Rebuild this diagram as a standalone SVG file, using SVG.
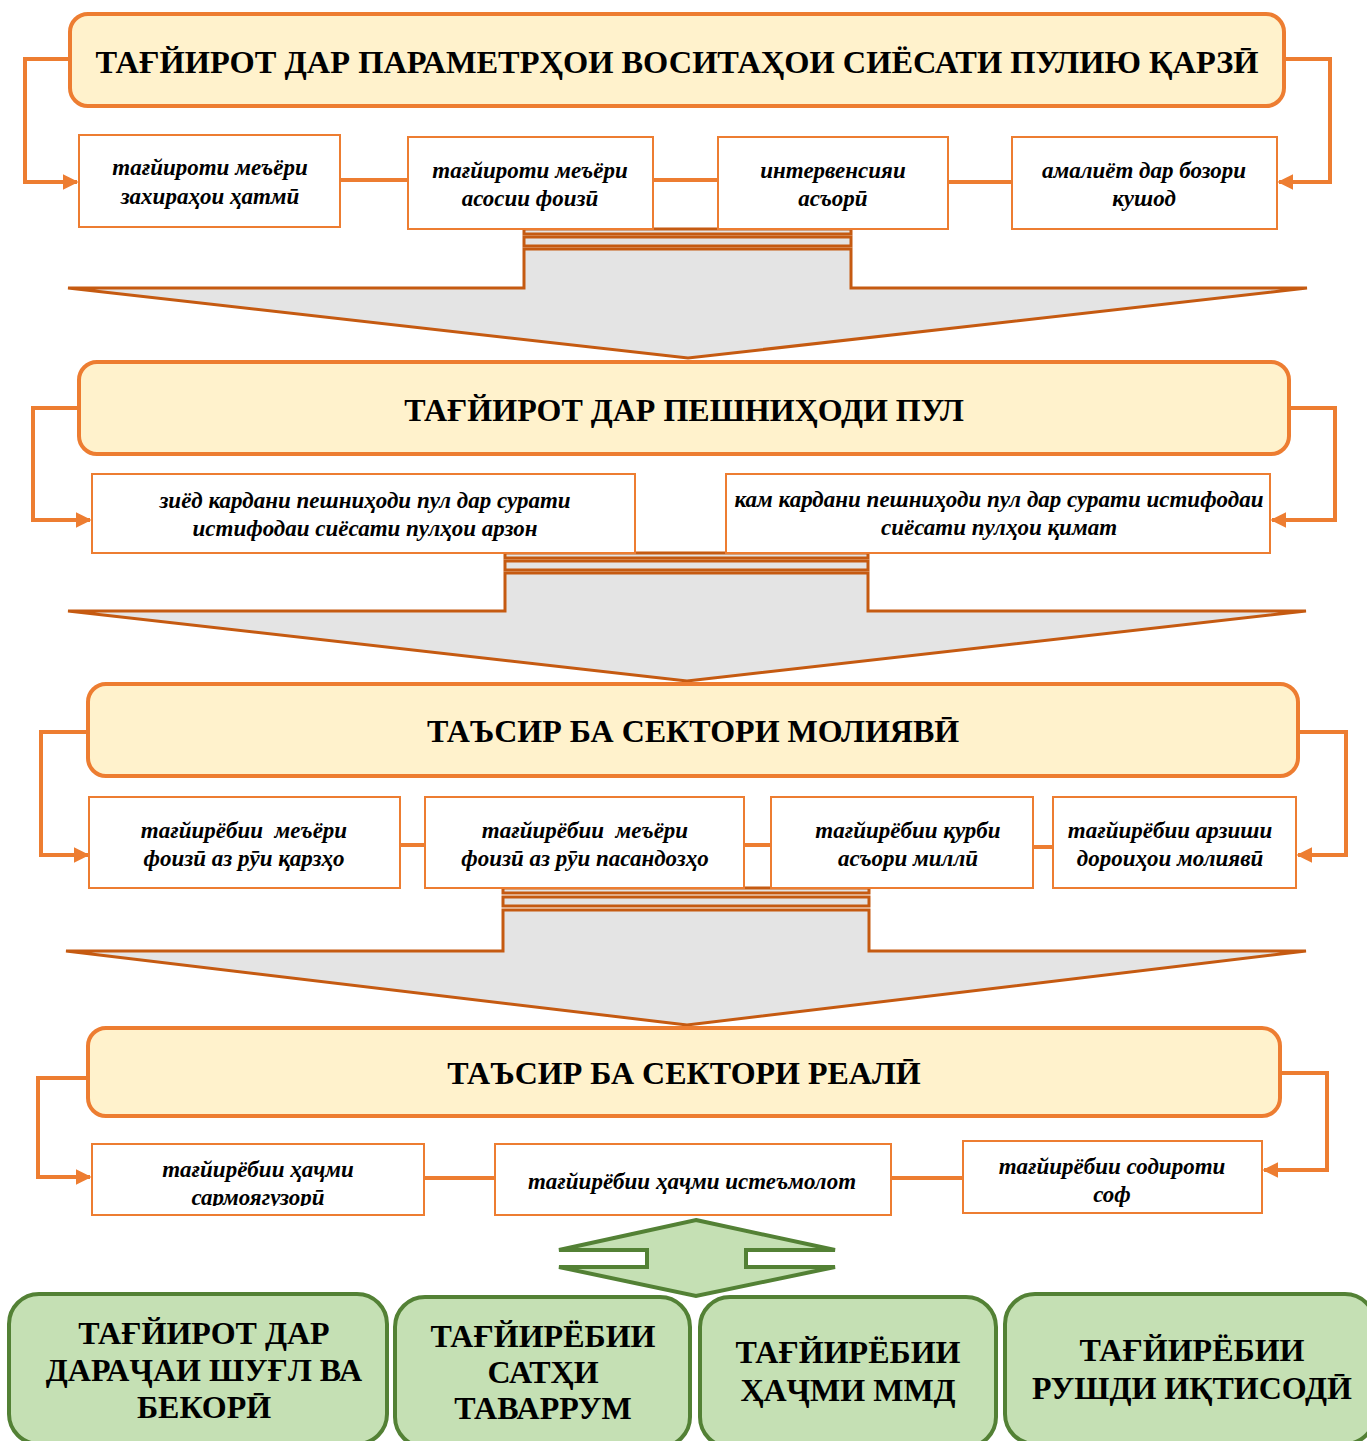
<svg xmlns="http://www.w3.org/2000/svg" width="1367" height="1441" viewBox="0 0 1367 1441">
<defs>
<marker id="arr" viewBox="0 0 10 10" refX="9" refY="5" markerWidth="4" markerHeight="4" orient="auto" markerUnits="strokeWidth">
<path d="M0,0 L10,5 L0,10 Z" fill="#ED7D31"/>
</marker>
<clipPath id="clipB41"><rect x="92" y="1144" width="332" height="62"/></clipPath>
</defs>
<rect width="1367" height="1441" fill="#FFFFFF"/>

<g id="connectors" fill="none" stroke="#ED7D31" stroke-width="4">
<path d="M70,59 H25 V182 H77" marker-end="url(#arr)"/>
<path d="M1284,59 H1330 V182 H1279" marker-end="url(#arr)"/>
<path d="M340,180 H408 M653,180 H718 M948,182 H1012"/>
<path d="M79,408 H33 V520 H90" marker-end="url(#arr)"/>
<path d="M1289,408 H1335 V520 H1272" marker-end="url(#arr)"/>
<path d="M88,732 H41 V855 H88" marker-end="url(#arr)"/>
<path d="M1298,732 H1346 V855 H1298" marker-end="url(#arr)"/>
<path d="M400,845 H425 M744,845 H771 M1033,847 H1053"/>
<path d="M88,1078 H38 V1177 H90" marker-end="url(#arr)"/>
<path d="M1280,1073 H1327 V1170 H1264" marker-end="url(#arr)"/>
<path d="M424,1178 H495 M891,1178 H963"/>
</g>

<g id="flow-arrow-1" fill="#E4E4E4" stroke="#C55A11" stroke-width="3">
<rect x="524" y="229" width="327" height="5"/>
<rect x="524" y="237" width="327" height="9"/>
<polygon points="524,249 851,249 851,288 1307,288 688,358 68,288 524,288"/>
</g>
<g id="flow-arrow-2" fill="#E4E4E4" stroke="#C55A11" stroke-width="3">
<rect x="505" y="553" width="363" height="5"/>
<rect x="505" y="561" width="363" height="9"/>
<polygon points="505,573 868,573 868,611 1306,611 687,681 68,611 505,611"/>
</g>
<g id="flow-arrow-3" fill="#E4E4E4" stroke="#C55A11" stroke-width="3">
<rect x="503" y="888" width="366" height="5"/>
<rect x="503" y="897" width="366" height="9"/>
<polygon points="503,910 869,910 869,951 1306,951 687,1025 66,951 503,951"/>
</g>

<g id="header1">
<rect x="70" y="14" width="1214" height="92" rx="18" fill="#FFF2CC" stroke="#ED7D31" stroke-width="4"/>
<text font-family="'Liberation Serif', 'DejaVu Serif', serif" font-weight="bold" font-size="32" text-anchor="middle" x="677" y="73" textLength="1163" lengthAdjust="spacingAndGlyphs">ТАҒЙИРОТ ДАР ПАРАМЕТРҲОИ ВОСИТАҲОИ СИЁСАТИ ПУЛИЮ ҚАРЗӢ</text>
</g>

<g id="row1" fill="#FFFFFF" stroke="#ED7D31" stroke-width="2">
<rect id="r1b1" x="79" y="135" width="261" height="92"/>
<rect id="r1b2" x="408" y="137" width="245" height="92"/>
<rect id="r1b3" x="718" y="137" width="230" height="92"/>
<rect id="r1b4" x="1012" y="137" width="265" height="92"/>
</g>
<g id="row1-text" font-family="'Liberation Serif', 'DejaVu Serif', serif" font-weight="bold" font-style="italic" font-size="23" text-anchor="middle" fill="#000">
<text x="210" y="175">тағйироти меъёри</text><text x="210" y="204">захираҳои ҳатмӣ</text>
<text x="530" y="178">тағйироти меъёри</text><text x="530" y="206">асосии фоизӣ</text>
<text x="833" y="178">интервенсияи</text><text x="833" y="206">асъорӣ</text>
<text x="1144" y="178">амалиёт дар бозори</text><text x="1144" y="206">кушод</text>
</g>

<g id="header2">
<rect x="79" y="362" width="1210" height="92" rx="18" fill="#FFF2CC" stroke="#ED7D31" stroke-width="4"/>
<text font-family="'Liberation Serif', 'DejaVu Serif', serif" font-weight="bold" font-size="32" text-anchor="middle" x="684" y="421">ТАҒЙИРОТ ДАР ПЕШНИҲОДИ ПУЛ</text>
</g>
<g id="row2" fill="#FFFFFF" stroke="#ED7D31" stroke-width="2">
<rect id="r2b1" x="92" y="474" width="543" height="79"/>
<rect id="r2b2" x="726" y="474" width="544" height="79"/>
</g>
<g id="row2-text" font-family="'Liberation Serif', 'DejaVu Serif', serif" font-weight="bold" font-style="italic" font-size="23" text-anchor="middle" fill="#000">
<text x="365" y="508">зиёд кардани пешниҳоди пул дар сурати</text><text x="365" y="536">истифодаи сиёсати пулҳои арзон</text>
<text x="999" y="507">кам кардани пешниҳоди пул дар сурати истифодаи</text><text x="999" y="535">сиёсати пулҳои қимат</text>
</g>

<g id="header3">
<rect x="88" y="684" width="1210" height="92" rx="18" fill="#FFF2CC" stroke="#ED7D31" stroke-width="4"/>
<text font-family="'Liberation Serif', 'DejaVu Serif', serif" font-weight="bold" font-size="32" text-anchor="middle" x="693" y="742">ТАЪСИР БА СЕКТОРИ МОЛИЯВӢ</text>
</g>
<g id="row3" fill="#FFFFFF" stroke="#ED7D31" stroke-width="2">
<rect id="r3b1" x="89" y="797" width="311" height="91"/>
<rect id="r3b2" x="425" y="797" width="319" height="91"/>
<rect id="r3b3" x="771" y="797" width="262" height="91"/>
<rect id="r3b4" x="1053" y="797" width="243" height="91"/>
</g>
<g id="row3-text" font-family="'Liberation Serif', 'DejaVu Serif', serif" font-weight="bold" font-style="italic" font-size="23" text-anchor="middle" fill="#000">
<text x="244" y="838" xml:space="preserve">тағйирёбии  меъёри</text><text x="244" y="866">фоизӣ аз рӯи қарзҳо</text>
<text x="585" y="838" xml:space="preserve">тағйирёбии  меъёри</text><text x="585" y="866">фоизӣ аз рӯи пасандозҳо</text>
<text x="908" y="838">тағйирёбии қурби</text><text x="908" y="866">асъори миллӣ</text>
<text x="1170" y="838">тағйирёбии арзиши</text><text x="1170" y="866">дороиҳои молиявӣ</text>
</g>

<g id="header4">
<rect x="88" y="1028" width="1192" height="88" rx="18" fill="#FFF2CC" stroke="#ED7D31" stroke-width="4"/>
<text font-family="'Liberation Serif', 'DejaVu Serif', serif" font-weight="bold" font-size="32" text-anchor="middle" x="684" y="1084">ТАЪСИР БА СЕКТОРИ РЕАЛӢ</text>
</g>
<g id="row4" fill="#FFFFFF" stroke="#ED7D31" stroke-width="2">
<rect id="r4b1" x="92" y="1144" width="332" height="71"/>
<rect id="r4b2" x="495" y="1144" width="396" height="71"/>
<rect id="r4b3" x="963" y="1141" width="299" height="72"/>
</g>
<g id="row4-text" font-family="'Liberation Serif', 'DejaVu Serif', serif" font-weight="bold" font-style="italic" font-size="23" text-anchor="middle" fill="#000">
<g clip-path="url(#clipB41)"><text x="258" y="1177">тағйирёбии ҳаҷми</text><text x="258" y="1205">сармоягузорӣ</text></g>
<text x="692" y="1189">тағйирёбии ҳаҷми истеъмолот</text>
<text x="1112" y="1174">тағйирёбии содироти</text><text x="1112" y="1202">соф</text>
</g>

<g id="double-arrow">
<polygon points="696,1220 835,1250 746,1250 746,1267 835,1267 696,1296 559,1267 647,1267 647,1250 559,1250" fill="#C5E0B4" stroke="#538135" stroke-width="4"/>
</g>

<g id="results" fill="#C5E0B4" stroke="#538135" stroke-width="4">
<rect id="g1" x="9" y="1294" width="378" height="150" rx="30"/>
<rect id="g2" x="395" y="1297" width="295" height="150" rx="30"/>
<rect id="g3" x="700" y="1297" width="296" height="150" rx="30"/>
<rect id="g4" x="1005" y="1294" width="370" height="150" rx="30"/>
</g>
<g id="results-text" font-family="'Liberation Serif', 'DejaVu Serif', serif" font-weight="bold" font-size="32" text-anchor="middle" fill="#000">
<text x="204" y="1344">ТАҒЙИРОТ ДАР</text><text x="204" y="1381">ДАРАҶАИ ШУҒЛ ВА</text><text x="204" y="1418">БЕКОРӢ</text>
<text x="543" y="1347">ТАҒЙИРЁБИИ</text><text x="543" y="1383">САТҲИ</text><text x="543" y="1419">ТАВАРРУМ</text>
<text x="848" y="1363">ТАҒЙИРЁБИИ</text><text x="848" y="1401">ҲАҶМИ ММД</text>
<text x="1192" y="1361">ТАҒЙИРЁБИИ</text><text x="1192" y="1399">РУШДИ ИҚТИСОДӢ</text>
</g>
</svg>
